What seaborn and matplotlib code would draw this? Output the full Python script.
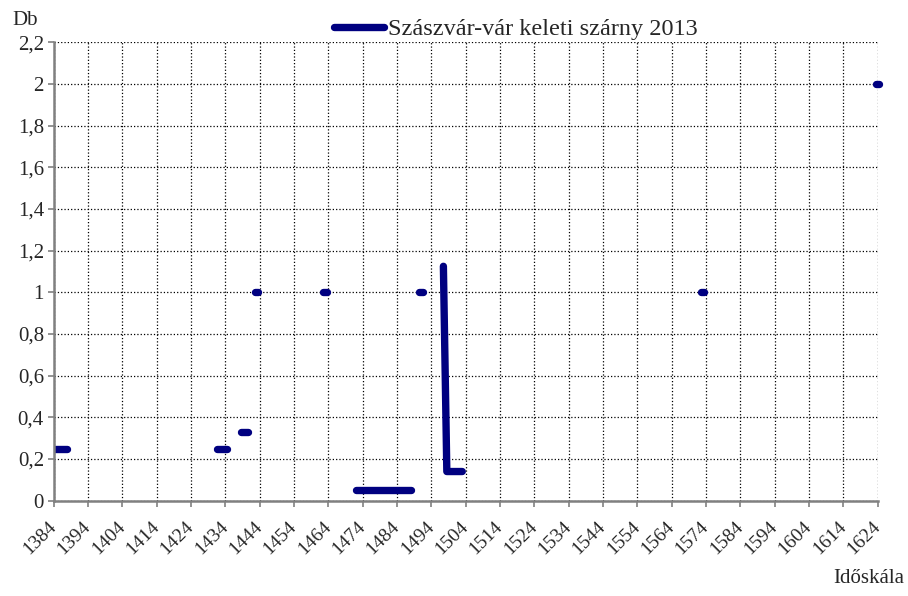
import numpy as np
import pandas as pd
import matplotlib
matplotlib.use("Agg")
import matplotlib.pyplot as plt
import seaborn as sns

# readings: each piece is a run of years with the same count
piece = [0, 0, 1, 1, 2, 2, 3, 3, 4, 4, 5, 5, 6, 6, 7, 7, 7, 8, 8, 9, 9]
year = [1384, 1388, 1431.5, 1434.5, 1438.5, 1440.5, 1442.5, 1443.5,
        1462.5, 1463.5, 1472, 1488, 1490.5, 1491.5,
        1497.5, 1498.5, 1503, 1572.5, 1573.5, 1623.5, 1624.5]
db = [0.25, 0.25, 0.25, 0.25, 0.33, 0.33, 1, 1, 1, 1, 0.05, 0.05, 1, 1,
      1.125, 0.14, 0.14, 1, 1, 2, 2]

xticks = list(range(1384, 1625, 10))
yticks = [0, 0.2, 0.4, 0.6, 0.8, 1, 1.2, 1.4, 1.6, 1.8, 2, 2.2]
series_name = "Szászvár-vár keleti szárny 2013"

df = pd.DataFrame({"piece": piece, "year": year, "db": db})

sns.set_theme(style="white")
plt.rcParams["font.family"] = ["Liberation Serif", "DejaVu Serif"]

fig = plt.figure(figsize=(9.08, 5.96), dpi=100)
ax = fig.add_axes([0.0591, 0.1599, 0.9076, 0.7691])

navy = "#000080"
lw = 5.3
sns.lineplot(data=df, x="year", y="db", units="piece", estimator=None,
             color=navy, linewidth=lw, ax=ax, legend=False)
for i, ln in enumerate(ax.lines):
    ln.set_solid_capstyle("round")
    ln.set_solid_joinstyle("round")
    if i > 0:
        ln.set_clip_on(False)

ax.set_xlim(1384, 1624)
ax.set_ylim(0, 2.2)
ax.set_xticks(xticks)
ax.set_yticks(yticks)
ax.set_yticklabels([("%g" % v).replace(".", ",") for v in yticks], fontsize=15)
ax.set_xticklabels([str(t) for t in xticks], fontsize=14, rotation=45,
                   ha="right", va="center", rotation_mode="anchor")
ax.set_xlabel("")
ax.set_ylabel("")

ax.grid(True, color="black", linestyle=":", linewidth=0.9)
ax.set_axisbelow(True)
for s in ["top", "right"]:
    ax.spines[s].set_visible(False)
for s in ["left", "bottom"]:
    ax.spines[s].set_color("#808080")
    ax.spines[s].set_linewidth(1.8)
ax.tick_params(axis="both", direction="out", length=4, width=1.2,
               color="#808080", bottom=True, left=True)
ax.tick_params(axis="y", pad=3)
ax.tick_params(axis="x", pad=13)

handle = plt.Line2D([], [], color=navy, linewidth=lw, solid_capstyle="round")
fig.legend([handle], [series_name], loc="center", bbox_to_anchor=(0.568, 0.951),
           frameon=False, fontsize=17.5, handlelength=2.05, handletextpad=0.15,
           borderaxespad=0, borderpad=0)

fig.text(0.028, 0.966, "Db", fontsize=15, ha="center", va="center")
fig.text(0.996, 0.03, "Időskála", fontsize=15, ha="right", va="center")

fig.savefig("out.png", dpi=100)
